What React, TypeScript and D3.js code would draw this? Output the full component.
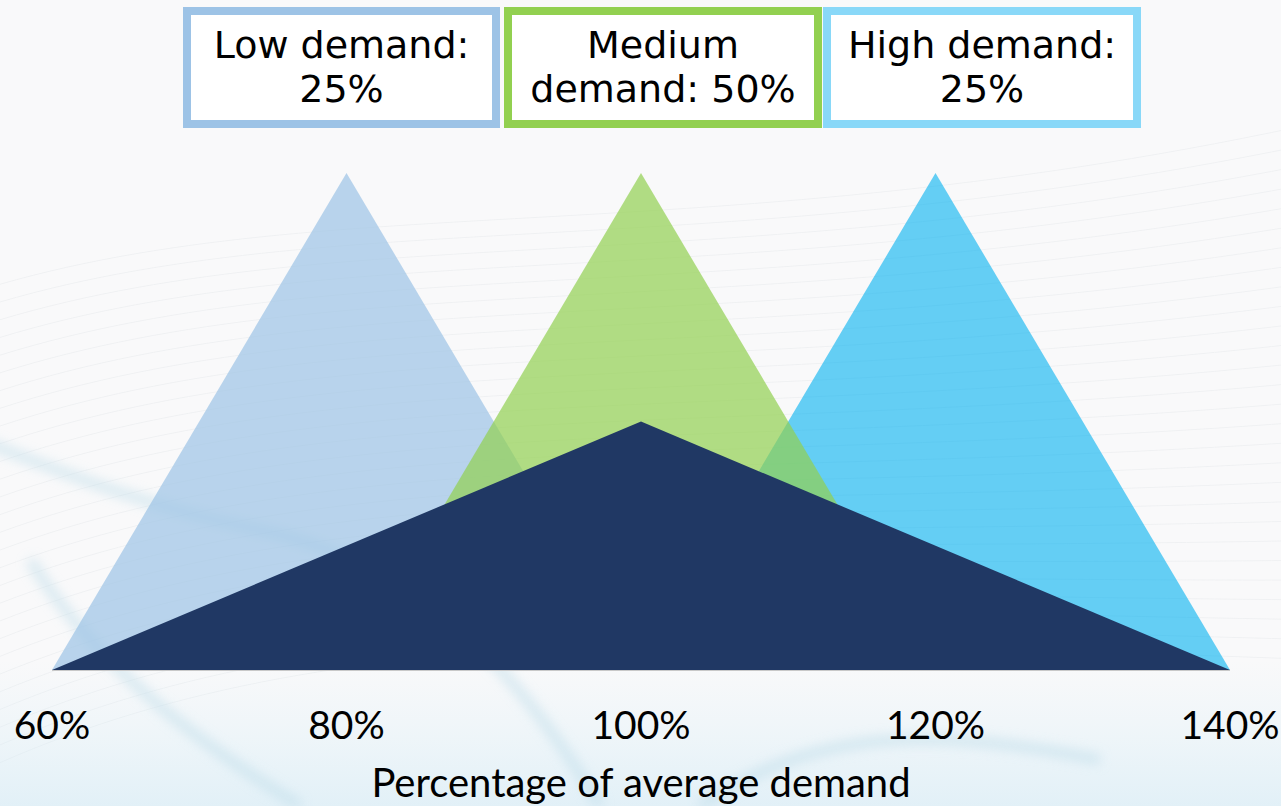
import React from "react";
import * as d3 from "d3";

// Demand scenarios: each triangle is [start%, peak%, end%] with its peak height
const scenarioNames = ["Low demand", "High demand", "Medium demand"];
const scenarioStart = [60, 100, 80];
const scenarioPeak = [80, 120, 100];
const scenarioEnd = [100, 140, 120];
const scenarioHeight = [1, 1, 1];
const scenarioColors = ["#9DC3E6", "#00B0F0", "#92D050"];
const scenarioOpacity = [0.7, 0.6, 0.7];

// Combined distribution across all scenarios
const combinedPoints: [number, number][] = [
  [60, 0],
  [100, 0.5],
  [140, 0],
];

// Legend entries
const legendLines = [
  ["Low demand:", "25%"],
  ["Medium", "demand: 50%"],
  ["High demand:", "25%"],
];
const legendColors = ["#9DC3E6", "#92D050", "#89D8F8"];

// Axis
const tickValues = [60, 80, 100, 120, 140];
const axisTitle = "Percentage of average demand";

const W = 1281;
const H = 806;

export default function App() {
  const x = d3.scaleLinear().domain([60, 140]).range([52, 1230]);
  const y = d3.scaleLinear().domain([0, 1]).range([670, 173]);
  const area = d3
    .line<[number, number]>()
    .x((d) => x(d[0]))
    .y((d) => y(d[1]))
    .curve(d3.curveLinearClosed);

  const legendX = d3.scaleOrdinal<number, number>().domain([0, 1, 2]).range([183, 504, 823]);
  const legendW = [317, 318, 318];

  // faint background swirl lines
  const swirl = d3.range(0, 28).map((i) => i);

  return (
    <svg
      width={W}
      height={H}
      style={{ position: "absolute", left: 0, top: 0, display: "block" }}
    >
      <defs>
        <filter id="soft" x="-20%" y="-20%" width="140%" height="140%">
          <feGaussianBlur stdDeviation="6" />
        </filter>
        <linearGradient id="bottomHaze" x1="0" y1="0" x2="0" y2="1">
          <stop offset="0" stopColor="#d8eef7" stopOpacity="0" />
          <stop offset="1" stopColor="#cfe9f5" stopOpacity="0.55" />
        </linearGradient>
      </defs>
      <rect x={0} y={0} width={W} height={H} fill="#f9f9fa" />
      <g fill="none" stroke="#eceef0" strokeWidth={1} opacity={0.7}>
        {swirl.map((i) => (
          <path
            key={"s" + i}
            d={`M -50 ${300 + i * 18} C 300 ${180 + i * 16}, 700 ${260 + i * 14}, 1330 ${120 + i * 20}`}
          />
        ))}
      </g>
      <rect x={0} y={660} width={W} height={146} fill="url(#bottomHaze)" />
      <g fill="none" stroke="#bcdbe8" strokeWidth={10} opacity={0.55} filter="url(#soft)">
        <path d="M -20 440 C 80 480, 160 510, 260 530 C 400 560, 500 640, 600 806" />
        <path d="M 30 560 C 80 640, 160 720, 300 806" />
        <path d="M 700 806 C 800 740, 900 720, 1100 760" />
      </g>

      {/* scenario triangles */}
      {scenarioNames.map((name, i) => (
        <path
          key={name}
          d={
            area([
              [scenarioStart[i], 0],
              [scenarioPeak[i], scenarioHeight[i]],
              [scenarioEnd[i], 0],
            ]) as string
          }
          fill={scenarioColors[i]}
          fillOpacity={scenarioOpacity[i]}
        />
      ))}

      {/* combined distribution */}
      <path d={area(combinedPoints) as string} fill="#203864" />

      {/* baseline */}
      <line x1={x(60)} x2={x(140)} y1={y(0) + 0.5} y2={y(0) + 0.5} stroke="#c8c8c8" strokeWidth={1} />

      {/* tick labels */}
      <g fontFamily="Lato, 'Open Sans', sans-serif" fill="#000" textAnchor="middle">
        {tickValues.map((t) => (
          <text key={t} x={x(t)} y={739} fontSize={39}>
            {t}%
          </text>
        ))}
        <text x={x(100)} y={797} fontSize={40}>
          {axisTitle}
        </text>
      </g>

      {/* legend boxes */}
      {legendLines.map((lines, i) => {
        const lx = legendX(i);
        const w = legendW[i];
        return (
          <g key={i}>
            <rect
              x={lx + 4}
              y={7 + 4}
              width={w - 8}
              height={121 - 8}
              fill="#ffffff"
              stroke={legendColors[i]}
              strokeWidth={8}
            />
            <g fontFamily="'DejaVu Sans', Verdana, sans-serif" fontSize={38} fill="#000" textAnchor="middle">
              <text x={lx + w / 2} y={58}>
                {lines[0]}
              </text>
              <text x={lx + w / 2} y={102}>
                {lines[1]}
              </text>
            </g>
          </g>
        );
      })}
    </svg>
  );
}
